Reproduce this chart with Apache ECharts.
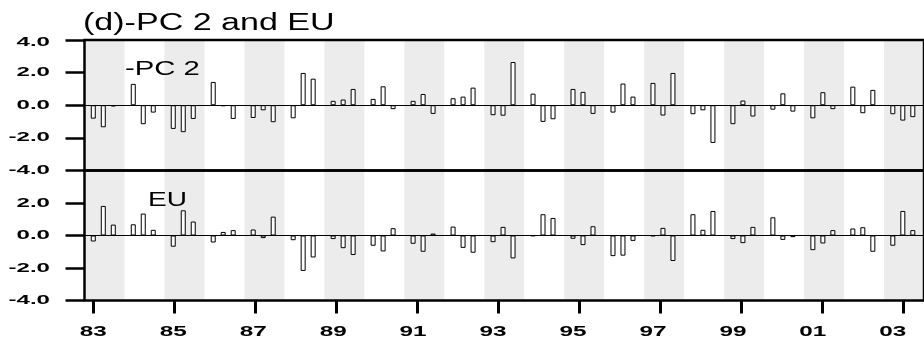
<!DOCTYPE html>
<html>
<head>
<meta charset="utf-8">
<script src="https://cdn.jsdelivr.net/npm/echarts@6/dist/echarts.min.js"></script>
<style>
  html, body { margin: 0; padding: 0; background: #fff; }
  #chart { width: 924px; height: 340px; }
</style>
</head>
<body>
<div id="chart"></div>
<script>
// Years shown on the time axis; each year carries three seasonal values.
const years = [1983, 1984, 1985, 1986, 1987, 1988, 1989, 1990, 1991, 1992, 1993,
               1994, 1995, 1996, 1997, 1998, 1999, 2000, 2001, 2002, 2003];
const seasonOffsets = [0, 0.25, 0.5];

// Sign-reversed second principal component, three values per year.
const pc2 = [
  -0.82, -1.35, -0.07,   // 1983
   1.31, -1.16, -0.45,   // 1984
  -1.45, -1.65, -0.84,   // 1985
   1.43, -0.05, -0.84,   // 1986
  -0.78, -0.31, -1.04,   // 1987
  -0.80,  1.98,  1.63,   // 1988
   0.27,  0.35,  1.00,   // 1989
   0.39,  1.16, -0.24,   // 1990
   0.27,  0.69, -0.53,   // 1991
   0.43,  0.53,  1.08,   // 1992
  -0.61, -0.64,  2.65,   // 1993
   0.71, -1.02, -0.86,   // 1994
   1.00,  0.82, -0.53,   // 1995
  -0.45,  1.33,  0.53,   // 1996
   1.37, -0.63,  1.98,   // 1997
  -0.55, -0.31, -2.31,   // 1998
  -1.16,  0.29, -0.69,   // 1999
  -0.27,  0.73, -0.39,   // 2000
  -0.80,  0.80, -0.24,   // 2001
   1.14, -0.49,  0.94,   // 2002
  -0.55, -0.94, -0.73    // 2003
];

// EU index, three values per year.
const eu = [
  -0.37,  1.82,  0.67,   // 1983
   0.69,  1.35,  0.35,   // 1984
  -0.69,  1.55,  0.86,   // 1985
  -0.43,  0.22,  0.33,   // 1986
   0.37, -0.16,  1.16,   // 1987
  -0.29, -2.18, -1.35,   // 1988
  -0.22, -0.78, -1.20,   // 1989
  -0.63, -0.98,  0.45,   // 1990
  -0.51, -1.00,  0.12,   // 1991
   0.55, -0.76, -1.06,   // 1992
  -0.41,  0.53, -1.41,   // 1993
  -0.03,  1.31,  1.08,   // 1994
  -0.20, -0.59,  0.57,   // 1995
  -1.27, -1.24, -0.33,   // 1996
  -0.04,  0.47, -1.57,   // 1997
   1.31,  0.35,  1.51,   // 1998
  -0.22, -0.47,  0.53,   // 1999
   1.12, -0.27, -0.10,   // 2000
  -0.90, -0.49,  0.33,   // 2001
   0.43,  0.51, -1.00,   // 2002
  -0.63,  1.51,  0.33    // 2003
];

const yTicks = [4, 2, 0, -2, -4];
const xTickStep = 2;   // label every second year
const titleText = '(d)-PC 2 and EU';
const panelNames = ['-PC 2', 'EU'];

// Each year's shaded band begins a little before its first season.
const BAND_LEAD = 0.22;
const firstYear = years[0];
const lastYear = years[years.length - 1];
const xMin = firstYear - BAND_LEAD;
const xMax = lastYear + 1 - BAND_LEAD;

const PLOT_LEFT = 84.5;
const PLOT_WIDTH = 850.5;
const pxPerYear = PLOT_WIDTH / (xMax - xMin);

function toPairs(values) {
  const out = [];
  years.forEach((y, i) => {
    seasonOffsets.forEach((o, k) => out.push([y + o, values[i * 3 + k]]));
  });
  return out;
}

const bands = years
  .filter((_, i) => i % 2 === 0)
  .map(y => [{ xAxis: y - BAND_LEAD }, { xAxis: y + 1 - BAND_LEAD }]);

const gridBase = {
  left: PLOT_LEFT, width: PLOT_WIDTH, show: true, z: 10,
  backgroundColor: 'transparent', borderColor: '#000', borderWidth: 2.5
};

function makeXAxis(i) {
  return {
    type: 'value', gridIndex: i, min: xMin, max: xMax,
    axisLine: { show: false, onZero: false },
    splitLine: { show: false },
    axisLabel: { show: false },
    axisTick: { show: false }
  };
}

function makeYAxis(i) {
  return {
    type: 'value', gridIndex: i, min: -4, max: 4, interval: 2,
    axisLine: { show: false, onZero: false },
    splitLine: { show: false },
    axisLabel: { show: false },
    axisTick: { show: true, length: 19, lineStyle: { color: '#000', width: 2.5 } }
  };
}

function makeSeries(i, name, values) {
  return {
    name: name, type: 'bar', xAxisIndex: i, yAxisIndex: i,
    data: toPairs(values),
    barWidth: 5,
    itemStyle: { color: '#fff', borderColor: '#000', borderWidth: 1 },
    markArea: { silent: true, itemStyle: { color: '#ececec' }, data: bands },
    markLine: {
      silent: true, symbol: 'none', animation: false,
      label: { show: false },
      lineStyle: { color: '#000', width: 1.2, type: 'solid' },
      data: [{ yAxis: 0 }]
    }
  };
}

// Year-tick axis: counts years from the first one so ticks fall on 83, 85, ...
const tickGrid = {
  left: PLOT_LEFT + BAND_LEAD * pxPerYear,
  width: (lastYear - firstYear) * pxPerYear,
  top: 170.5, height: 130, show: false
};
const tickXAxis = {
  type: 'value', gridIndex: 2, min: 0, max: lastYear - firstYear, interval: xTickStep,
  position: 'bottom',
  axisLine: { show: false, onZero: false },
  splitLine: { show: false },
  axisLabel: { show: false },
  axisTick: { show: true, length: 13, lineStyle: { color: '#000', width: 3 } }
};
const tickYAxis = {
  type: 'value', gridIndex: 2, min: -4, max: 4, show: false,
  axisLine: { onZero: false }
};

const chart = echarts.init(document.getElementById('chart'), null, { renderer: 'canvas' });
chart.setOption({
  animation: false,
  grid: [
    Object.assign({ top: 40, height: 130.5 }, gridBase),
    Object.assign({ top: 170.5, height: 130 }, gridBase),
    tickGrid
  ],
  xAxis: [makeXAxis(0), makeXAxis(1), tickXAxis],
  yAxis: [makeYAxis(0), makeYAxis(1), tickYAxis],
  series: [makeSeries(0, panelNames[0], pc2), makeSeries(1, panelNames[1], eu)]
});

// Text is set in a wide face: each label is stretched horizontally.
function label(text, x, y, opts) {
  const st = {
    text: text, fill: '#000',
    fontFamily: '"Liberation Sans", Arial, sans-serif',
    fontSize: opts.size, fontWeight: opts.weight || 'normal',
    align: opts.align, textAlign: opts.align,
    verticalAlign: 'middle', textVerticalAlign: 'middle'
  };
  return { type: 'text', x: x, y: y, scaleX: opts.scaleX, z: 20, silent: true, style: st };
}

const texts = [];
[0, 1].forEach(gi => {
  yTicks.forEach(v => {
    if (gi === 1 && v === 4) return;
    const py = chart.convertToPixel({ yAxisIndex: gi }, v);
    texts.push(label(v.toFixed(1), 50, py + (v === 4 ? 2 : 0), { size: 13, weight: 'bold', align: 'right', scaleX: 1.85 }));
  });
});
for (let y = firstYear; y <= lastYear; y += xTickStep) {
  const px = chart.convertToPixel({ xAxisIndex: 1 }, y);
  texts.push(label(String(y % 100).padStart(2, '0'), px, 332, { size: 15, weight: 'bold', align: 'center', scaleX: 1.62 }));
}
texts.push(label(titleText, 83, 24, { size: 23, align: 'left', scaleX: 1.48 }));
texts.push(label(panelNames[0], 125, 70, { size: 19.5, align: 'left', scaleX: 1.5 }));
texts.push(label(panelNames[1], 148, 200, { size: 20, align: 'left', scaleX: 1.4 }));

chart.setOption({ graphic: { elements: texts } });
</script>
</body>
</html>
